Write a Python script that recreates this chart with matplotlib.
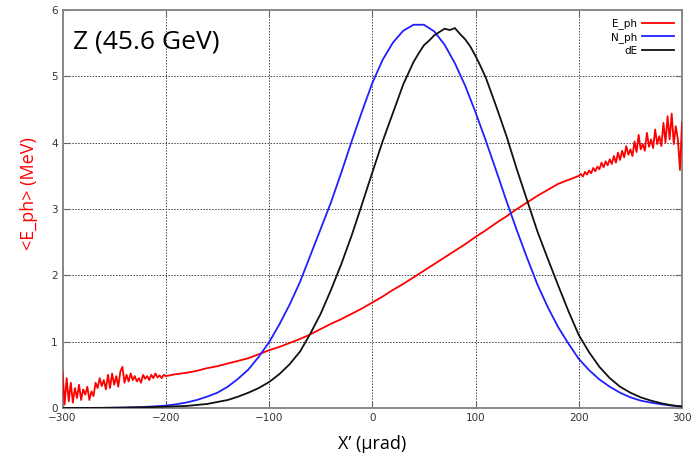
import numpy as np
from matplotlib import pyplot as plt

# <E_ph> vs X' : noisy tails sampled every 2 urad, smooth middle every 10 urad
eph_left_x = list(range(-300, -199, 2))
eph_left_y = [0.55, 0.05, 0.45, 0.10, 0.38, 0.08, 0.30, 0.15, 0.35, 0.12,
              0.28, 0.20, 0.32, 0.12, 0.25, 0.18, 0.38, 0.30, 0.45, 0.33,
              0.42, 0.28, 0.50, 0.30, 0.52, 0.35, 0.48, 0.32, 0.55, 0.62,
              0.38, 0.50, 0.40, 0.52, 0.42, 0.48, 0.40, 0.45, 0.38, 0.50,
              0.44, 0.48, 0.42, 0.50, 0.45, 0.52, 0.46, 0.49, 0.45, 0.50,
              0.48]
eph_mid_x = list(range(-190, 191, 10))
eph_mid_y = [0.51, 0.53, 0.56, 0.60, 0.63, 0.67, 0.71, 0.75, 0.81, 0.87,
             0.92, 0.98, 1.04, 1.11, 1.19, 1.27, 1.34, 1.42, 1.50, 1.59,
             1.68, 1.78, 1.87, 1.97, 2.07, 2.17, 2.27, 2.37, 2.47, 2.58,
             2.68, 2.79, 2.89, 3.00, 3.10, 3.20, 3.29, 3.38, 3.44]
eph_right_x = list(range(200, 301, 2))
eph_right_y = [3.50, 3.53, 3.49, 3.56, 3.52, 3.58, 3.54, 3.62, 3.57, 3.64,
               3.60, 3.70, 3.63, 3.72, 3.66, 3.75, 3.68, 3.80, 3.70, 3.85,
               3.74, 3.88, 3.78, 3.95, 3.82, 3.90, 3.80, 4.02, 3.86, 4.12,
               3.90, 3.98, 3.88, 4.15, 3.94, 4.05, 3.92, 4.20, 3.98, 4.10,
               3.95, 4.30, 4.00, 4.40, 4.05, 4.44, 3.98, 4.25, 4.05, 3.59,
               4.30]

# N_ph (arbitrary scale), every 10 urad
nph_x = list(range(-300, 301, 10))
nph_y = [0.0, 0.0, 0.0, 0.0, 0.001, 0.004, 0.006, 0.010, 0.016, 0.025,
         0.035, 0.055, 0.082, 0.12, 0.17, 0.23, 0.32, 0.44, 0.58, 0.77,
         0.99, 1.26, 1.56, 1.90, 2.30, 2.70, 3.10, 3.55, 4.02, 4.47,
         4.90, 5.25, 5.51, 5.69, 5.78, 5.78, 5.68, 5.48, 5.20, 4.86,
         4.46, 4.03, 3.58, 3.12, 2.68, 2.26, 1.86, 1.52, 1.22, 0.97,
         0.74, 0.57, 0.43, 0.32, 0.23, 0.16, 0.11, 0.08, 0.055, 0.036,
         0.024]

# dE (arbitrary scale)
de_x = list(range(-300, 30, 10)) + list(range(30, 115, 5)) + list(range(120, 301, 10))
de_y = [0.0, 0.0, 0.0, 0.001, 0.002, 0.003, 0.005, 0.008, 0.011, 0.015,
        0.02, 0.025, 0.03, 0.045, 0.06, 0.09, 0.12, 0.17, 0.23, 0.30,
        0.39, 0.51, 0.66, 0.85, 1.12, 1.42, 1.78, 2.17, 2.60, 3.07,
        3.55, 4.02, 4.45,
        4.88, 5.05, 5.22, 5.35, 5.47, 5.54, 5.62, 5.67, 5.72, 5.70,
        5.73, 5.64, 5.56, 5.45, 5.31, 5.15, 4.98,
        4.55, 4.10, 3.60, 3.13, 2.66, 2.25, 1.85, 1.46, 1.10, 0.84,
        0.62, 0.45, 0.32, 0.23, 0.16, 0.11, 0.07, 0.04, 0.02]

x_ticks = [-300, -200, -100, 0, 100, 200, 300]
y_ticks = [0, 1, 2, 3, 4, 5, 6]

fig = plt.figure(figsize=(6.91, 4.62), dpi=100)
ax = fig.add_axes([0.0905, 0.117, 0.8965, 0.861])

eph_x = eph_left_x + eph_mid_x + eph_right_x
eph_y = eph_left_y + eph_mid_y + eph_right_y
ax.plot(eph_x, eph_y, color='#ff0000', lw=1.3, label='E_ph', zorder=3)
ax.plot(nph_x, nph_y, color='#2020ff', lw=1.3, label='N_ph', zorder=4)
ax.plot(de_x, de_y, color='#111111', lw=1.3, label='dE', zorder=4)

ax.set_xlim(-300, 300)
ax.set_ylim(0, 6)
ax.set_xticks(x_ticks)
ax.set_yticks(y_ticks)
ax.tick_params(direction='in', length=5, width=0.8, color='#666666',
               labelsize=7.5, labelcolor='#333333', top=True, right=True)
ax.grid(True, color='#444444', linestyle=(0, (1.5, 1.5)), linewidth=0.7)
for sp in ax.spines.values():
    sp.set_color('#888888')
    sp.set_linewidth(1.4)

ax.set_xlabel('X\u2019 (\u03bcrad)', fontsize=13, family='Open Sans', labelpad=9)
ax.set_ylabel('<E_ph> (MeV)', fontsize=13, family='Open Sans', color='#ff0000')
ax.yaxis.set_label_coords(-0.04, 0.54)
ax.text(0.017, 0.92, 'Z (45.6 GeV)', transform=ax.transAxes, fontsize=19,
        family='Open Sans', va='center', ha='left')

leg = ax.legend(loc='upper right', markerfirst=False, frameon=False, fontsize=7.5,
                handlelength=3.0, handletextpad=0.5, labelspacing=0.25,
                borderaxespad=0.4)

fig.savefig('out.png', dpi=100)
